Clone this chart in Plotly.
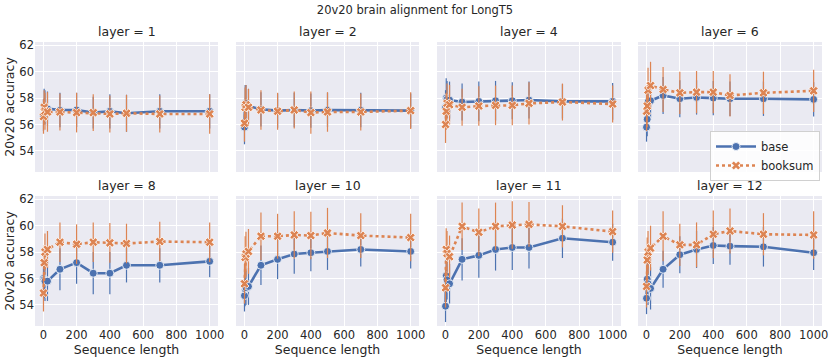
import plotly.graph_objects as go
from plotly.subplots import make_subplots

# Sequence lengths used for every layer
seq_length = [1, 5, 10, 25, 100, 200, 300, 400, 500, 700, 1000]

layers = [1, 2, 4, 6, 8, 10, 11, 12]

# Mean 20v20 accuracy and error bar half width, per layer
base_1 = [56.7, 57.4, 57.3, 57.2, 57.1, 57.1, 56.9, 57.0, 56.85, 57.0, 57.0]
base_err_1 = [1.2, 1.3, 1.3, 1.3, 1.3, 1.3, 1.2, 1.3, 1.4, 1.3, 1.3]
booksum_1 = [56.6, 57.3, 57.0, 56.95, 56.95, 56.9, 56.9, 56.8, 56.85, 56.8, 56.8]
booksum_err_1 = [1.3, 1.3, 1.4, 1.5, 1.4, 1.5, 1.4, 1.4, 1.4, 1.4, 1.5]

base_2 = [55.8, 57.5, 57.6, 57.4, 57.15, 57.05, 57.1, 57.05, 57.1, 57.1, 57.05]
base_err_2 = [1.3, 1.5, 1.4, 1.3, 1.3, 1.3, 1.3, 1.3, 1.3, 1.3, 1.3]
booksum_2 = [56.1, 57.3, 57.5, 57.3, 57.1, 57.0, 57.1, 56.9, 56.95, 56.95, 57.05]
booksum_err_2 = [1.4, 1.5, 1.5, 1.4, 1.5, 1.4, 1.4, 1.6, 1.5, 1.4, 1.4]

base_4 = [57.3, 58.0, 57.9, 57.85, 57.7, 57.75, 57.8, 57.8, 57.85, 57.75, 57.75]
base_err_4 = [1.3, 1.5, 1.4, 1.4, 1.4, 1.5, 1.5, 1.4, 1.4, 1.3, 1.4]
booksum_4 = [56.0, 57.0, 57.6, 57.5, 57.3, 57.4, 57.45, 57.45, 57.6, 57.7, 57.55]
booksum_err_4 = [1.4, 1.4, 1.5, 1.5, 1.4, 1.5, 1.5, 1.5, 1.6, 1.4, 1.4]

base_6 = [55.8, 56.4, 57.7, 57.8, 58.2, 57.95, 58.05, 58.0, 57.95, 57.95, 57.9]
base_err_6 = [1.1, 1.3, 1.3, 1.3, 1.4, 1.4, 1.3, 1.3, 1.3, 1.3, 1.3]
booksum_6 = [57.0, 57.4, 58.6, 58.95, 58.65, 58.4, 58.45, 58.45, 58.2, 58.4, 58.55]
booksum_err_6 = [1.5, 1.6, 1.7, 1.8, 1.7, 1.6, 1.6, 1.6, 1.6, 1.6, 1.6]

base_8 = [56.0, 55.9, 55.8, 55.8, 56.7, 57.2, 56.4, 56.4, 57.0, 57.0, 57.3]
base_err_8 = [1.4, 1.4, 1.5, 1.5, 1.6, 1.6, 1.6, 1.6, 1.3, 1.3, 1.2]
booksum_8 = [54.9, 57.2, 58.0, 58.2, 58.75, 58.6, 58.75, 58.7, 58.65, 58.8, 58.75]
booksum_err_8 = [1.4, 1.3, 1.4, 1.4, 1.5, 1.5, 1.5, 1.5, 1.5, 1.5, 1.5]

base_10 = [54.7, 55.2, 55.3, 55.4, 57.0, 57.45, 57.85, 57.95, 58.05, 58.2, 58.05]
base_err_10 = [1.2, 1.3, 1.3, 1.4, 1.5, 1.5, 1.5, 1.4, 1.4, 1.3, 1.3]
booksum_10 = [55.6, 57.6, 57.85, 58.05, 59.2, 59.2, 59.3, 59.25, 59.45, 59.25, 59.1]
booksum_err_10 = [1.5, 1.6, 1.7, 1.7, 1.8, 1.7, 1.8, 1.8, 1.9, 1.7, 1.8]

base_11 = [53.9, 56.2, 55.9, 55.6, 57.45, 57.75, 58.2, 58.35, 58.35, 59.05, 58.75]
base_err_11 = [1.2, 1.5, 1.5, 1.5, 1.6, 1.7, 1.6, 1.7, 1.6, 1.5, 1.4]
booksum_11 = [55.3, 58.2, 57.9, 57.65, 59.95, 59.5, 59.95, 60.05, 60.1, 59.95, 59.55]
booksum_err_11 = [1.5, 1.6, 1.7, 1.6, 1.8, 1.8, 1.8, 1.8, 1.7, 1.6, 1.6]

base_12 = [54.5, 55.95, 55.6, 55.25, 56.7, 57.8, 58.2, 58.5, 58.45, 58.4, 57.95]
base_err_12 = [1.2, 1.6, 1.6, 1.6, 1.4, 1.4, 1.4, 1.4, 1.4, 1.5, 1.3]
booksum_12 = [55.4, 57.4, 58.0, 58.3, 59.2, 58.55, 58.55, 59.35, 59.6, 59.35, 59.3]
booksum_err_12 = [1.6, 1.7, 1.6, 1.7, 1.9, 1.6, 1.7, 1.8, 1.7, 1.6, 1.8]

base_values = [base_1, base_2, base_4, base_6, base_8, base_10, base_11, base_12]
base_errors = [base_err_1, base_err_2, base_err_4, base_err_6,
               base_err_8, base_err_10, base_err_11, base_err_12]
booksum_values = [booksum_1, booksum_2, booksum_4, booksum_6,
                  booksum_8, booksum_10, booksum_11, booksum_12]
booksum_errors = [booksum_err_1, booksum_err_2, booksum_err_4, booksum_err_6,
                  booksum_err_8, booksum_err_10, booksum_err_11, booksum_err_12]

BLUE = "#4c72b0"
ORANGE = "#dd8452"
TEXT = "#262626"
FONT = "DejaVu Sans"

W, H = 830, 358
# Panel pixel boxes (left, right) and (top, bottom)
col_px = [(35, 218), (236, 419), (437, 621), (638, 822)]
row_px = [(42, 172), (196, 326)]


def add_series(plot, row, col, values, errors, name, color, symbol, dash, show):
    plot.add_trace(
        go.Scatter(
            x=seq_length,
            y=values,
            name=name,
            legendgroup=name,
            showlegend=show,
            mode="lines+markers",
            line=dict(color=color, width=2.6, dash=dash),
            marker=dict(
                color=color, symbol=symbol, size=8, line=dict(color="white", width=0.8)
            ),
            error_y=dict(
                type="data",
                array=errors,
                visible=True,
                color=color,
                thickness=1.2,
                width=0,
            ),
        ),
        row=row,
        col=col,
    )


fig = make_subplots(rows=2, cols=4)

for i, layer in enumerate(layers):
    r, c = i // 4 + 1, i % 4 + 1
    add_series(fig, r, c, base_values[i], base_errors[i], "base",
               BLUE, "circle", "solid", i == 0)
    add_series(fig, r, c, booksum_values[i], booksum_errors[i], "booksum",
               ORANGE, "x", "dot", i == 0)

    # Place the panel exactly where it sits in the reference
    left, right = col_px[c - 1]
    top, bottom = row_px[r - 1]
    fig.update_xaxes(domain=[left / W, right / W], row=r, col=c)
    fig.update_yaxes(domain=[(H - bottom) / H, (H - top) / H], row=r, col=c)

    fig.add_annotation(
        text=f"layer = {layer}",
        x=(left + right) / 2 / W,
        y=(H - top + 1) / H,
        xref="paper",
        yref="paper",
        xanchor="center",
        yanchor="bottom",
        showarrow=False,
        font=dict(size=12.5, color=TEXT),
    )

fig.update_xaxes(
    range=[-50, 1050],
    tickvals=[0, 200, 400, 600, 800, 1000],
    showticklabels=False,
    showgrid=True,
    gridcolor="white",
    gridwidth=1,
    zeroline=False,
    showline=False,
    ticks="",
    automargin=False,
    tickfont=dict(size=11.5, color=TEXT),
)
fig.update_xaxes(showticklabels=True, row=2)
fig.update_xaxes(
    title_text="Sequence length",
    title_font=dict(size=12.5, color=TEXT),
    title_standoff=0,
    row=2,
)

fig.update_yaxes(
    range=[52.4, 62.25],
    tickvals=[54, 56, 58, 60, 62],
    showticklabels=False,
    showgrid=True,
    gridcolor="white",
    gridwidth=1,
    zeroline=False,
    showline=False,
    ticks="",
    automargin=False,
    tickfont=dict(size=11.5, color=TEXT),
)
fig.update_yaxes(
    showticklabels=True,
    title_text="20v20 accuracy",
    title_font=dict(size=12.5, color=TEXT),
    title_standoff=1,
    col=1,
)

fig.update_layout(
    width=W,
    height=H,
    margin=dict(l=0, r=0, t=0, b=0),
    paper_bgcolor="white",
    plot_bgcolor="#eaeaf2",
    font=dict(family=FONT, color=TEXT),
    title=dict(
        text="20v20 brain alignment for LongT5",
        x=0.5,
        xanchor="center",
        y=1 - 10 / H,
        yanchor="middle",
        font=dict(size=11.5, color=TEXT),
    ),
    legend=dict(
        x=710 / W,
        y=(H - 131) / H,
        xanchor="left",
        yanchor="top",
        bgcolor="rgba(255,255,255,0.85)",
        bordercolor="#d0d0d0",
        borderwidth=1,
        font=dict(size=11.5, color=TEXT),
        itemwidth=40,
        tracegroupgap=0,
    ),
)

# The page body has a default 8px margin, drop it so the figure sits at 0,0
fig.write_html(
    "out.html",
    config={"displayModeBar": False},
    post_script="document.body.style.margin = '0';",
)
